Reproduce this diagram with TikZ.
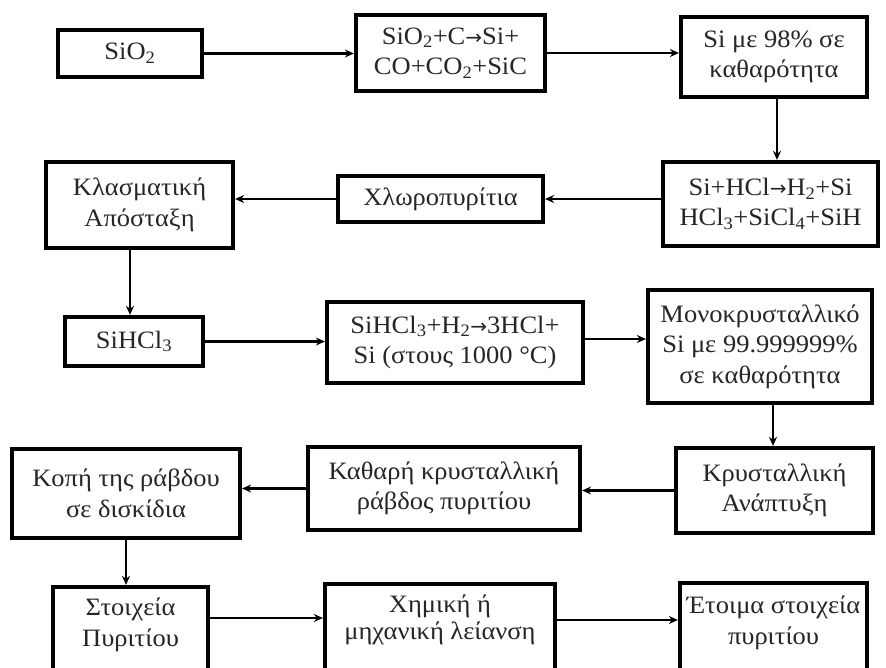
\documentclass[tikz,border=0pt]{standalone}
\usepackage{fontspec}
\setmainfont{Liberation Serif}[FakeStretch=1.06]
\newfontfamily\arrfont{DejaVu Sans}[Scale=0.8]
\usetikzlibrary{arrows.meta,calc}
\newcommand{\sbs}[1]{\textsubscript{#1}}
\newcommand{\rarr}{{\arrfont →}}
\begin{document}
\begin{tikzpicture}[x=1pt,y=-1pt,
  box/.style={draw=black,line width=4.2pt,rectangle,inner sep=0pt,fill=white},
  txt/.style={align=center,text=black!85,font=\fontsize{25}{30.5}\selectfont,inner sep=0pt},
  flow/.style={line width=2.4pt,-{Stealth[length=9pt,width=8pt]}}]
\useasboundingbox (0,0) rectangle (886,668);
\fill[white] (0,0) rectangle (886,668);
\clip (0,0) rectangle (886,668);
% row 1
\node[box,minimum width=144,minimum height=47] (A) at (130,53.5) {};
\node[txt] (At) at (A) {SiO\sbs{2}};
\node[box,minimum width=189,minimum height=76] (B) at (450.5,53) {};
\node[txt] (Bt) at (B) {SiO\sbs{2}+C\rarr Si+\\CO+CO\sbs{2}+SiC};
\node[box,minimum width=186,minimum height=80] (C) at (774,57) {};
\node[txt] (Ct) at (C) {Si με 98\% σε\\καθαρότητα};
% row 2
\node[box,minimum width=215,minimum height=84] (D) at (770.5,204) {};
\node[txt] (Dt) at (D) {Si+HCl\rarr H\sbs{2}+Si\\HCl\sbs{3}+SiCl\sbs{4}+SiH};
\node[box,minimum width=205,minimum height=46] (E) at (440.5,199) {};
\node[txt] (Et) at (E) {Χλωροπυρίτια};
\node[box,minimum width=187,minimum height=86] (F) at (139.5,205) {};
\node[txt] (Ft) at (F) {Κλασματική\\Απόσταξη};
% row 3
\node[box,minimum width=138,minimum height=49] (G) at (134,341.5) {};
\node[txt] (Gt) at (G) {SiHCl\sbs{3}};
\node[box,minimum width=256,minimum height=81] (H) at (455,342.5) {};
\node[txt] (Ht) at (H) {SiHCl\sbs{3}+H\sbs{2}\rarr 3HCl+\\Si (στους 1000 °C)};
\node[box,minimum width=224,minimum height=113] (I) at (760,346.5) {};
\node[txt] (It) at (I) {Μονοκρυσταλλικό\\Si με 99.999999\%\\σε καθαρότητα};
% row 4
\node[box,minimum width=197,minimum height=85] (J) at (774.5,490.5) {};
\node[txt] (Jt) at (J) {Κρυσταλλική\\Ανάπτυξη};
\node[box,minimum width=272,minimum height=83] (K) at (444,488.5) {};
\node[txt] (Kt) at (K) {Καθαρή κρυσταλλική\\ράβδος πυριτίου};
\node[box,minimum width=228,minimum height=89] (L) at (126,493.5) {};
\node[txt] (Lt) at (L) {Κοπή της ράβδου\\σε δισκίδια};
% row 5 (cut by the lower edge)
\node[box,minimum width=155,minimum height=130] (N) at (130.5,652) {};
\node[txt] (Nt) at (130.5,625) {Στοιχεία\\Πυριτίου};
\node[box,minimum width=230,minimum height=130] (O) at (440,649) {};
\node[txt,font=\fontsize{25}{27}\selectfont] (Ot) at (440,620) {Χημική ή\\μηχανική λείανση};
\node[box,minimum width=187,minimum height=130] (P) at (773.5,648) {};
\node[txt] (Pt) at (773.5,623) {Έτοιμα στοιχεία\\πυριτίου};
% helper coordinates
\coordinate (xfg) at (130,0);
\coordinate (xcd) at (777,0);
\coordinate (xij) at (773,0);
\coordinate (yno) at (0,618);
\coordinate (yop) at (0,620);
\coordinate (yhi) at (0,339);
% connectors
\draw[flow] (A.east) -- (A.east -| B.west);
\draw[flow] (B.east) -- (B.east -| C.west);
\draw[flow] (xcd |- C.south) -- (xcd |- D.north);
\draw[flow] (E.east -| D.west) -- (E.east);
\draw[flow] (E.west) -- (E.west -| F.east);
\draw[flow] (xfg |- F.south) -- (xfg |- G.north);
\draw[flow] (G.east) -- (G.east -| H.west);
\draw[flow] (H.east |- yhi) -- (I.west |- yhi);
\draw[flow] (xij |- I.south) -- (xij |- J.north);
\draw[flow] (J.west) -- (J.west -| K.east);
\draw[flow] (K.west) -- (K.west -| L.east);
\draw[flow] (L.south) -- (L.south |- N.north);
\draw[flow] (N.east |- yno) -- (O.west |- yno);
\draw[flow] (O.east |- yop) -- (P.west |- yop);
\end{tikzpicture}
\end{document}
